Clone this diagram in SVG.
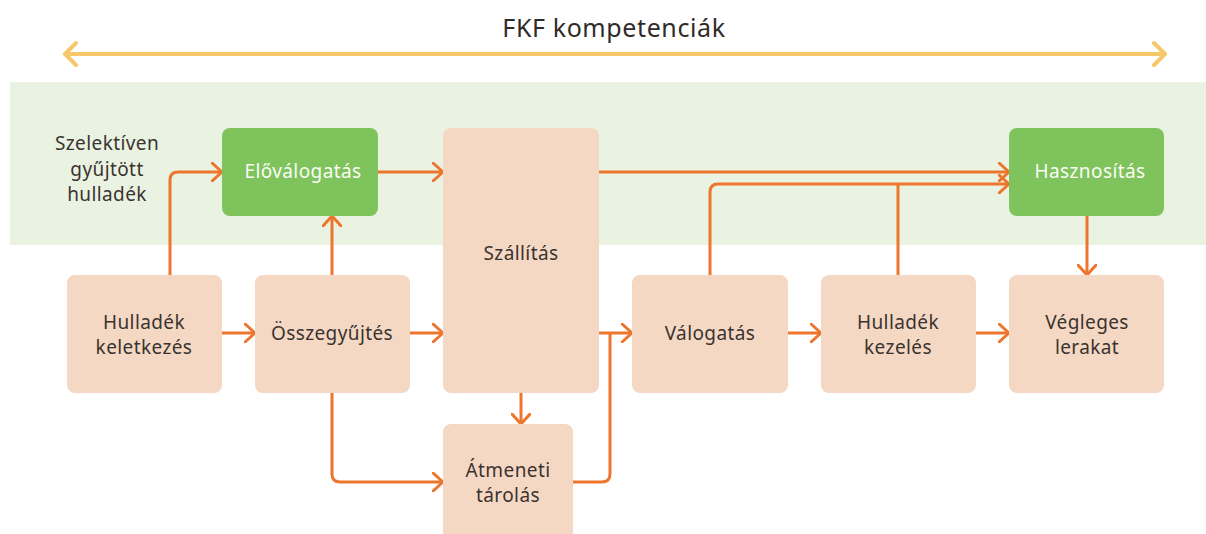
<svg xmlns="http://www.w3.org/2000/svg" width="1206" height="534" viewBox="0 0 1206 534">
<defs>
<style>
.box{fill:#f5d8c3}
.gbox{fill:#7ec35c}
.t{font-family:"Noto Sans","Liberation Sans",sans-serif;font-size:19px;letter-spacing:0.4px;fill:#3a3330;text-anchor:middle}
.tw{font-family:"Noto Sans","Liberation Sans",sans-serif;font-size:19px;letter-spacing:0.4px;fill:#fbfbf5;text-anchor:middle}
.c{fill:none;stroke:#ec762d;stroke-width:3;stroke-linejoin:round}
.y{fill:none;stroke:#f6c86a;stroke-width:4;stroke-linecap:round;stroke-linejoin:round}
</style>
<marker id="ah" viewBox="0 0 12 20" refX="11" refY="10" markerWidth="12" markerHeight="20" markerUnits="userSpaceOnUse" orient="auto">
<path d="M1,1 L11,10 L1,19" fill="none" stroke="#ec762d" stroke-width="3" stroke-linecap="round" stroke-linejoin="round"/>
</marker>
</defs>
<rect width="1206" height="534" fill="#ffffff"/>
<rect x="10" y="82" width="1196" height="163" fill="#eaf2e2"/>
<g id="title">
<text x="614" y="37" style="font-family:'Noto Sans','Liberation Sans',sans-serif;font-size:25px;letter-spacing:0.6px;fill:#2f2b29;text-anchor:middle">FKF kompetenciák</text>
<path class="y" d="M66,54 H1164 M76,43 L65,54 L76,65 M1154,43 L1165,54 L1154,65"/>
</g>
<g id="label-szelektiv">
<text class="t" x="107" y="150">Szelektíven</text>
<text class="t" x="107" y="176">gyűjtött</text>
<text class="t" x="107" y="201">hulladék</text>
</g>
<g id="connectors">
<path class="c" marker-end="url(#ah)" d="M170,275 V180 Q170,172 178,172 H222"/>
<path class="c" marker-end="url(#ah)" d="M332,275 V216"/>
<path class="c" marker-end="url(#ah)" d="M378,172 H443"/>
<path class="c" marker-end="url(#ah)" d="M222,333 H255"/>
<path class="c" marker-end="url(#ah)" d="M410,333 H443"/>
<path class="c" marker-end="url(#ah)" d="M599,172 H1009"/>
<path class="c" marker-end="url(#ah)" d="M710,275 V192 Q710,184 718,184 H1009"/>
<path class="c" d="M898,275 V184"/>
<path class="c" marker-end="url(#ah)" d="M1087,216 V275"/>
<path class="c" marker-end="url(#ah)" d="M599,333 H632"/>
<path class="c" d="M573,482 H602 Q610,482 610,474 V333"/>
<path class="c" marker-end="url(#ah)" d="M521,393 V424"/>
<path class="c" marker-end="url(#ah)" d="M332,393 V474 Q332,482 340,482 H443"/>
<path class="c" marker-end="url(#ah)" d="M788,333 H821"/>
<path class="c" marker-end="url(#ah)" d="M976,333 H1009"/>
</g>
<g id="elovalogatas">
<rect class="gbox" x="222" y="128" width="156" height="88" rx="8"/>
<text class="tw" x="303" y="178">Előválogatás</text>
</g>
<g id="szallitas">
<rect class="box" x="443" y="128" width="156" height="265" rx="8"/>
<text class="t" x="521" y="260">Szállítás</text>
</g>
<g id="hasznositas">
<rect class="gbox" x="1009" y="128" width="155" height="88" rx="8"/>
<text class="tw" x="1090" y="178">Hasznosítás</text>
</g>
<g id="hulladek-keletkezes">
<rect class="box" x="67" y="275" width="155" height="118" rx="8"/>
<text class="t" x="144" y="329">Hulladék</text>
<text class="t" x="144" y="354">keletkezés</text>
</g>
<g id="osszegyujtes">
<rect class="box" x="255" y="275" width="155" height="118" rx="8"/>
<text class="t" x="332" y="340">Összegyűjtés</text>
</g>
<g id="valogatas">
<rect class="box" x="632" y="275" width="156" height="118" rx="8"/>
<text class="t" x="710" y="340">Válogatás</text>
</g>
<g id="hulladek-kezeles">
<rect class="box" x="821" y="275" width="155" height="118" rx="8"/>
<text class="t" x="898" y="329">Hulladék</text>
<text class="t" x="898" y="354">kezelés</text>
</g>
<g id="vegleges-lerakat">
<rect class="box" x="1009" y="275" width="155" height="118" rx="8"/>
<text class="t" x="1087" y="329">Végleges</text>
<text class="t" x="1087" y="354">lerakat</text>
</g>
<g id="atmeneti-tarolas">
<rect class="box" x="443" y="424" width="130" height="120" rx="8"/>
<text class="t" x="508" y="477">Átmeneti</text>
<text class="t" x="508" y="502">tárolás</text>
</g>
</svg>
